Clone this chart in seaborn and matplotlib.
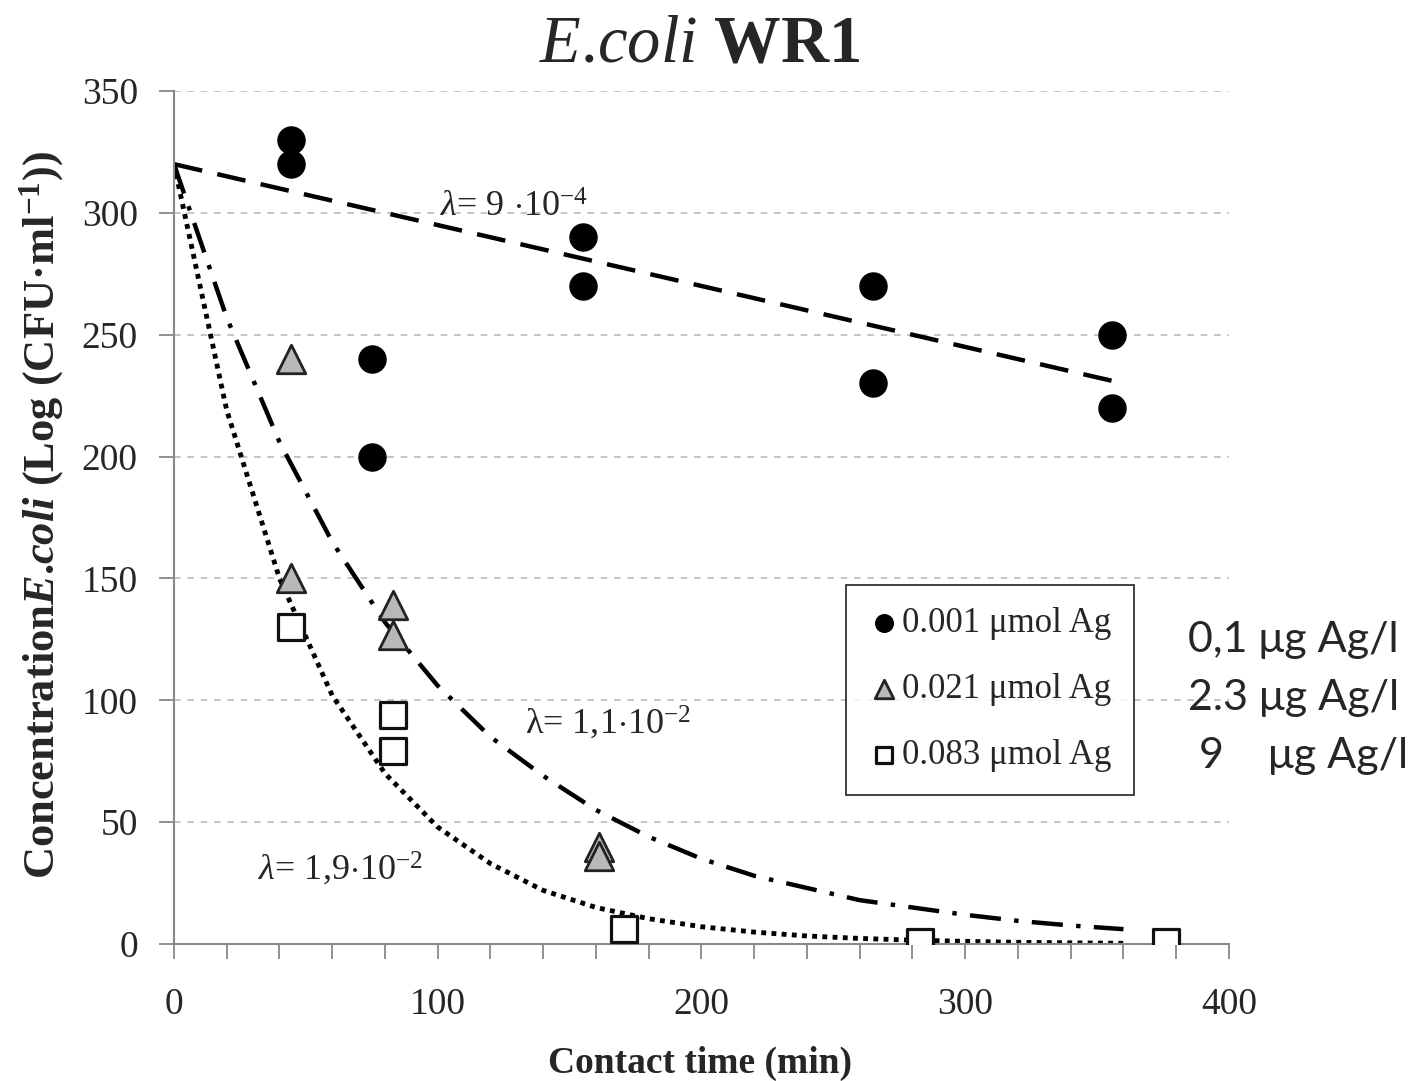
import matplotlib
matplotlib.use('Agg')
import matplotlib.pyplot as plt
import seaborn as sns
from matplotlib.ticker import MultipleLocator

# pontos medidos (tempo em min, concentracao)
t_001 = [44.5, 44.5, 75, 75, 155, 155, 265, 265, 355.5, 355.5]
c_001 = [330, 320, 240, 200, 290, 270, 270, 230, 250, 220]

t_021 = [44.5, 44.5, 83, 83, 161, 161]
c_021 = [240, 150, 139, 127, 40, 36]

t_083 = [44.5, 83, 83, 170.5, 283, 376]
c_083 = [130, 94, 79, 6, 0.8, 0.8]

# curvas de ajuste
ajuste_t = [0, 20, 40, 60, 80, 100, 120, 140, 160, 180, 200, 220, 240, 260, 280, 300, 320, 340, 360]
ajuste_011 = [320, 257, 206, 165, 132, 106, 85, 69, 55, 44, 35, 28, 23, 18, 15, 12, 9.5, 7.6, 6.1]
ajuste_019 = [320, 219, 150, 102, 70, 48, 33, 22, 15, 10.4, 7.1, 4.9, 3.3, 2.3, 1.6, 1.1, 0.7, 0.5, 0.3]
linear_t = [0, 360]
linear_v = [320, 230]

legendas = ['0.001 \u03bcmol Ag', '0.021 \u03bcmol Ag', '0.083 \u03bcmol Ag']
textos_direita = ['0,1 \u03bcg Ag/l', '2.3 \u03bcg Ag/l', ' 9    \u03bcg Ag/l']

sns.set_style('white')
plt.rcParams['font.family'] = ['Liberation Serif', 'DejaVu Serif']
plt.rcParams['mathtext.fontset'] = 'custom'
plt.rcParams['mathtext.rm'] = 'Liberation Serif'
plt.rcParams['mathtext.it'] = 'Liberation Serif:italic'
plt.rcParams['mathtext.bf'] = 'Liberation Serif:bold'
plt.rcParams['mathtext.bfit'] = 'Liberation Serif:bold:italic'

fig = plt.figure(figsize=(14.11, 10.81), dpi=100)
ax = fig.add_axes([0.1233, 0.1267, 0.7477, 0.7891])

# linhas de ajuste
sns.lineplot(x=linear_t, y=linear_v, color='black', lw=3.2, linestyle=(0, (6.5, 3.5)), ax=ax, zorder=2)
sns.lineplot(x=ajuste_t, y=ajuste_011, color='black', lw=3.2, linestyle=(0, (7, 3, 1, 3)), ax=ax, zorder=2)
sns.lineplot(x=ajuste_t, y=ajuste_019, color='black', lw=3.5, linestyle=(0, (1, 1.1)), ax=ax, zorder=2)

sns.scatterplot(x=t_001, y=c_001, marker='o', color='black', edgecolor='black', s=380, linewidth=1,
                ax=ax, zorder=3, label=legendas[0])
sns.scatterplot(x=t_021, y=c_021, marker='^', color='#b8b8b8', edgecolor='#222222', s=420, linewidth=2,
                ax=ax, zorder=3, label=legendas[1])
sns.scatterplot(x=t_083, y=c_083, marker='s', color='white', edgecolor='#111111', s=340, linewidth=2.3,
                ax=ax, zorder=3, label=legendas[2])

ax.set_xlim(0, 400)
ax.set_ylim(0, 350)
ax.xaxis.set_major_locator(MultipleLocator(100))
ax.xaxis.set_minor_locator(MultipleLocator(20))
ax.yaxis.set_major_locator(MultipleLocator(50))
ax.tick_params(axis='both', which='both', direction='out', length=11, width=1.3, color='#888888',
               labelsize=27, bottom=True, left=True)
ax.tick_params(axis='x', pad=20)
ax.tick_params(axis='y', pad=15)
ax.yaxis.grid(True, linestyle=(0, (4, 4)), color='#bbbbbb', lw=1.2)
ax.set_axisbelow(True)
for s in ['top', 'right']:
    ax.spines[s].set_visible(False)
for s in ['left', 'bottom']:
    ax.spines[s].set_color('#888888')
    ax.spines[s].set_linewidth(1.5)

ax.set_xlabel('Contact time (min)', fontsize=27, fontweight='bold', va='center')
ax.xaxis.set_label_coords(0.4986, -0.1395)
ax.set_ylabel('Concentration$\\mathbfit{E}$.$\\mathbfit{coli}$ (Log (CFU\u00b7ml$^{\\mathbf{-1}}$))',
              fontsize=32, fontweight='bold', va='center')
ax.yaxis.set_label_coords(-0.125, 0.503)

ax.text(101, 302, r'$\mathit{\lambda}$= 9 $\cdot$10$^{-4}$', fontsize=26, va='center', ha='left')
ax.text(133, 91, r'$\mathrm{\lambda}$= 1,1$\cdot$10$^{-2}$', fontsize=26, va='center', ha='left')
ax.text(32, 31, r'$\mathit{\lambda}$= 1,9$\cdot$10$^{-2}$', fontsize=26, va='center', ha='left')

leg = ax.legend(loc='upper left', bbox_to_anchor=(0.637, 0.421), borderaxespad=0, fontsize=25,
                frameon=True, fancybox=False, edgecolor='black', markerscale=0.65,
                handletextpad=0.05, handlelength=0.9, labelspacing=0.95, borderpad=0.65)
leg.get_frame().set_linewidth(1.3)

fig.text(0.496, 0.958, r'$\mathit{E}$.$\mathit{coli}$ $\mathbf{WR1}$', fontsize=48, ha='center', va='center')

for i, txt in enumerate(textos_direita):
    fig.text(1188 / 1411, 1 - (640 + 58 * i) / 1081, txt, fontsize=31, family=['Lato', 'DejaVu Sans'],
             ha='left', va='center')

fig.savefig('out.png', dpi=100)
